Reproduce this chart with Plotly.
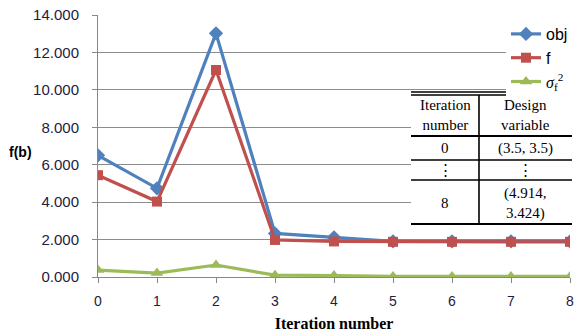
import plotly.graph_objects as go

# Iteration history
iterations = [0, 1, 2, 3, 4, 5, 6, 7, 8]
obj_values = [6.50, 4.74, 13.02, 2.33, 2.12, 1.90, 1.90, 1.90, 1.90]
f_values = [5.44, 4.03, 11.06, 1.98, 1.90, 1.88, 1.88, 1.88, 1.88]
var_values = [0.37, 0.21, 0.64, 0.10, 0.08, 0.03, 0.03, 0.03, 0.03]

y_ticks = [0, 2, 4, 6, 8, 10, 12, 14]
y_tick_text = [f"{v:.3f}" for v in y_ticks]

table_header = ["Iteration<br>number", "Design<br>variable"]
table_rows = [["0", "(3.5, 3.5)"], ["⋮", "⋮"], ["8", "(4.914,<br>3.424)"]]

W, H = 585, 334
L, R, T, B = 98, 15, 15, 57
PW, PH = W - L - R, H - T - B


def px(x):
    return (x - L) / PW


def py(y):
    return 1 - (y - T) / PH


fig = go.Figure()
fig.add_trace(go.Scatter(x=iterations, y=obj_values, name="obj", mode="lines+markers",
                         line=dict(color="#4F81BD", width=3.2),
                         marker=dict(symbol="diamond", size=11, color="#4F81BD")))
fig.add_trace(go.Scatter(x=iterations, y=f_values, name="f", mode="lines+markers",
                         line=dict(color="#C0504D", width=3.2),
                         marker=dict(symbol="square", size=10, color="#C0504D")))
fig.add_trace(go.Scatter(x=iterations, y=var_values,
                         name="<span style='font-family:Liberation Serif'><i>σ</i><sub>f</sub><sup>2</sup></span>",
                         mode="lines+markers",
                         line=dict(color="#9BBB59", width=3.2),
                         marker=dict(symbol="triangle-up", size=11, color="#9BBB59")))

shapes = []
annotations = []

# table background and rules
tx0, tx1, tmid = 411, 572, 479
shapes.append(dict(type="rect", xref="paper", yref="paper", x0=px(tx0), x1=px(tx1),
                   y0=py(225), y1=py(90), fillcolor="white", line=dict(width=0), layer="above"))
for yy, w in [(92, 1.6), (95, 1.6), (136, 2), (160, 1.6), (180, 1.6), (224, 2)]:
    shapes.append(dict(type="line", xref="paper", yref="paper", x0=px(tx0), x1=px(tx1),
                       y0=py(yy), y1=py(yy), line=dict(color="black", width=w), layer="above"))
shapes.append(dict(type="line", xref="paper", yref="paper", x0=px(tmid), x1=px(tmid),
                   y0=py(95), y1=py(224), line=dict(color="black", width=1.6), layer="above"))

c1, c2 = (tx0 + tmid) / 2, (tmid + tx1) / 2
tfont = dict(family="Liberation Serif", size=15, color="black")
row_centers = [115, 148, 170, 203]
cells = [table_header] + table_rows
for yc, row in zip(row_centers, cells):
    for xc, txt in zip((c1, c2), row):
        annotations.append(dict(text=txt, x=px(xc), y=py(yc), xref="paper", yref="paper",
                                showarrow=False, font=tfont, xanchor="center", yanchor="middle"))

annotations.append(dict(text="<b>f(b)</b>", x=px(20), y=py(152), xref="paper", yref="paper",
                        showarrow=False, xanchor="center", yanchor="middle",
                        font=dict(family="Liberation Sans", size=14, color="black")))

fig.update_layout(
    width=W, height=H,
    margin=dict(l=L, r=R, t=T, b=B, autoexpand=False),
    paper_bgcolor="white", plot_bgcolor="white",
    shapes=shapes, annotations=annotations,
    legend=dict(x=px(573), xanchor="right", y=py(17), yanchor="top", bgcolor="white",
                font=dict(family="Liberation Sans", size=16, color="black"),
                itemwidth=30, borderwidth=0, tracegroupgap=0),
    xaxis=dict(range=[0, 8], tickvals=iterations, showgrid=False, zeroline=False,
               automargin=False,
               showline=True, linecolor="#888888", linewidth=1,
               ticks="outside", ticklen=5, tickcolor="#888888", ticklabelstandoff=6,
               tickfont=dict(family="Liberation Sans", size=14, color="#1F2040"),
               title=dict(text="<b>Iteration number</b>", standoff=10,
                          font=dict(family="Liberation Serif", size=16, color="black"))),
    yaxis=dict(range=[0, 14], tickvals=y_ticks, ticktext=y_tick_text,
               automargin=False,
               showgrid=True, gridcolor="#8C8C8C", gridwidth=1, zeroline=False,
               showline=True, linecolor="#888888", linewidth=1,
               ticks="outside", ticklen=5, tickcolor="#888888", ticklabelstandoff=10,
               tickfont=dict(family="Liberation Sans", size=15, color="#1F2040")),
)

fig.write_html("out.html")
